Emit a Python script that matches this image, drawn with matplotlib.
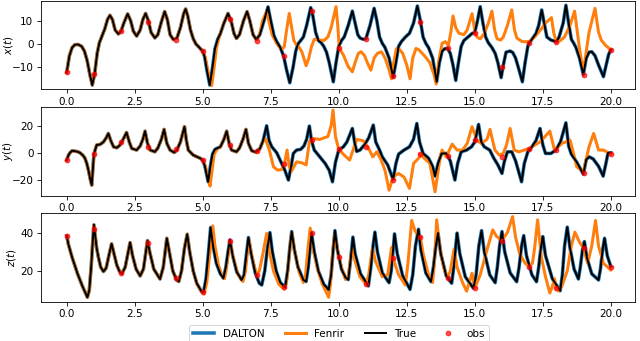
import numpy as np
import matplotlib.pyplot as plt

# 观测时刻和观测值 (t = 0..20)
obs_t = list(range(21))
obs_x = [-12.2, -12.9, 5.7, 9.6, 1.7, -3.0, 10.7, 1.4, -5.0, 14.2, -1.9,
         2.1, -13.7, 9.4, -1.9, 4.9, -9.7, 0.3, 1.0, -13.3, -2.6]
obs_y = [-5.4, -1.0, 7.9, 4.0, 2.5, -5.4, 5.7, 1.5, -8.6, 9.4, 2.7,
         4.0, -19.8, -1.0, -2.5, 9.4, -3.0, 2.5, 2.0, -14.8, -1.2]
obs_z = [38.3, 41.9, 18.8, 34.4, 16.5, 9.0, 35.7, 17.9, 11.8, 39.7, 27.5,
         13.2, 26.6, 37.9, 16.5, 11.0, 35.8, 22.3, 11.0, 31.8, 22.3]

# 真实轨迹 (从图中读取的点)
true_x = [(0, -12.1), (0.1, -5), (0.2, -1.5), (0.3, -0.3), (0.42, -0.2), (0.55, -1), (0.65, -3),
          (0.75, -7), (0.85, -13), (0.94, -17.6), (1.03, -12.5), (1.12, -4), (1.2, 0.5), (1.3, 3.5),
          (1.4, 6.5), (1.5, 10.5), (1.59, 12.3), (1.68, 10.5), (1.78, 6), (1.9, 4.3), (2.0, 5.6),
          (2.1, 9), (2.24, 12.9), (2.35, 10), (2.45, 5.5), (2.57, 3.4), (2.7, 6), (2.8, 10.5),
          (2.9, 13.1), (3.0, 10), (3.1, 5), (3.24, 2.6), (3.35, 4), (3.48, 9.5), (3.6, 13.9),
          (3.7, 10.5), (3.8, 4), (3.92, 1.9), (4.05, 2.5), (4.18, 7), (4.3, 13), (4.37, 15.0),
          (4.45, 12), (4.55, 6), (4.65, 2.3), (4.75, 0), (4.85, -1.2), (4.95, -2.5), (5.0, -3.0),
          (5.07, -5.5), (5.15, -11), (5.26, -17.6), (5.36, -10), (5.45, -2), (5.55, 2), (5.65, 4.5),
          (5.78, 9), (5.93, 13.1), (6.05, 9.5), (6.15, 4.5), (6.24, 2.4), (6.35, 4), (6.5, 10),
          (6.63, 13.9), (6.73, 10), (6.85, 4), (6.97, 1.9), (7.1, 4), (7.25, 10), (7.4, 15.9),
          (7.5, 10), (7.62, 3.5), (7.72, 1), (7.85, -1.5), (7.97, -5), (8.08, -11), (8.2, -16.6),
          (8.32, -10), (8.42, -3), (8.5, 0), (8.6, 1.5), (8.7, 3), (8.82, 8), (8.97, 15.6),
          (9.05, 12), (9.15, 5), (9.25, 1.5), (9.35, 0.6), (9.45, -1), (9.55, -3.5), (9.65, -8),
          (9.8, -16.2), (9.9, -8), (10.0, -1), (10.1, 1.5), (10.2, 3), (10.35, 8), (10.5, 14.1),
          (10.6, 9), (10.7, 4), (10.78, 2.6), (10.9, 2), (11.0, 2.3), (11.15, 8), (11.3, 15.3),
          (11.4, 10), (11.5, 3), (11.6, 0.3), (11.7, -1.5), (11.85, -6), (12.0, -14.2), (12.1, -8),
          (12.2, -1), (12.3, 1), (12.45, 3), (12.6, 4.6), (12.75, 9), (12.89, 16.3), (13.0, 10),
          (13.1, 3), (13.2, 0.3), (13.3, -1.5), (13.45, -6), (13.6, -16.2), (13.7, -8), (13.8, -3),
          (13.9, -2), (14.0, -1.9), (14.1, -4), (14.2, -9), (14.3, -15.6), (14.4, -8), (14.5, -1),
          (14.6, 1.5), (14.75, 3), (14.9, 4.5), (15.0, 5.0), (15.1, 10), (15.2, 16.0), (15.3, 9),
          (15.4, 3), (15.5, 0.5), (15.63, -1.5), (15.75, -4), (15.85, -8), (15.97, -14.4),
          (16.05, -9), (16.15, -3.5), (16.3, -3), (16.4, -3.7), (16.5, -6), (16.6, -10),
          (16.75, -16.2), (16.85, -8), (16.95, -1), (17.0, 0.5), (17.1, 2), (17.25, 4.5),
          (17.35, 8), (17.46, 14.6), (17.55, 9), (17.65, 3), (17.8, 1.7), (17.95, 1.2), (18.0, 1.0),
          (18.1, 3), (18.25, 9), (18.35, 16.6), (18.45, 9), (18.55, 2), (18.63, 0.5), (18.72, -1.5),
          (18.85, -6), (18.99, -13.1), (19.1, -6), (19.2, -3.5), (19.3, -3.3), (19.42, -5),
          (19.55, -9), (19.73, -14), (19.83, -9), (19.92, -4.5), (20.0, -2.5)]

true_y = [(0, -5.4), (0.06, -2), (0.12, 0), (0.2, 1.5), (0.3, 1.2), (0.4, 0.8), (0.49, 0), (0.6, -2),
          (0.67, -4), (0.74, -8), (0.8, -13), (0.86, -19), (0.92, -24), (0.96, -13), (1.0, -1),
          (1.1, 5.7), (1.23, 6.2), (1.35, 8), (1.45, 11), (1.53, 14.3), (1.62, 9), (1.72, 4.4),
          (1.84, 3.7), (1.95, 5.5), (2.05, 9), (2.2, 15), (2.3, 8), (2.39, 3.2), (2.57, 2), (2.7, 5),
          (2.8, 10), (2.88, 16), (2.97, 7), (3.07, 2), (3.24, 0.7), (3.35, 3.5), (3.48, 10),
          (3.58, 17.3), (3.68, 7), (3.8, 2), (3.95, 0.2), (4.05, 2), (4.18, 8), (4.33, 19.3),
          (4.4, 9), (4.47, 2), (4.65, -1.7), (4.9, -4), (5.0, -5.4), (5.08, -10), (5.2, -21.5),
          (5.28, -10), (5.36, -1), (5.45, 2.5), (5.55, 3.5), (5.65, 4.4), (5.78, 10), (5.88, 16),
          (5.97, 7), (6.06, 2), (6.24, 0.7), (6.35, 3.5), (6.48, 10), (6.59, 17.3), (6.68, 7),
          (6.8, 1.5), (6.95, 0.5), (7.1, 3), (7.22, 9), (7.35, 20), (7.44, 9), (7.54, 4.4), (7.72, 0),
          (7.9, -7.9), (8.02, -13), (8.15, -20.2), (8.25, -10), (8.33, -0.5), (8.45, 2), (8.6, 2.5),
          (8.72, 5), (8.82, 10), (8.92, 19.8), (9.0, 9), (9.1, 2), (9.3, -3), (9.5, -7.9),
          (9.65, -13), (9.77, -21.5), (9.88, -7), (10.0, 2), (10.17, 4.4), (10.3, 8), (10.5, 18),
          (10.6, 6), (10.66, 1), (10.78, 2), (10.95, 6), (11.1, 11), (11.27, 20.5), (11.36, 8),
          (11.5, 2), (11.6, -3), (11.8, -9), (12.0, -19.8), (12.1, -8), (12.2, -1), (12.4, 2),
          (12.6, 4.4), (12.75, 10), (12.87, 21.7), (12.97, 8), (13.1, -0.5), (13.3, -4),
          (13.45, -10), (13.54, -17.3), (13.65, -8), (13.78, -0.5), (13.95, -0.5), (14.1, -6),
          (14.27, -20.2), (14.37, -8), (14.5, 0.7), (14.7, 2), (14.88, 4.4), (15.0, 8), (15.14, 21),
          (15.24, 8), (15.35, 4.4), (15.55, 2), (15.7, -4), (15.85, -9), (16.0, -15.3), (16.08, -7),
          (16.2, 0.7), (16.36, 0.7), (16.5, -6), (16.72, -21.5), (16.82, -8), (16.95, 0.7),
          (17.1, 4.4), (17.25, 9), (17.4, 18), (17.5, 6), (17.6, -0.5), (17.8, -0.5), (17.98, 2),
          (18.15, 8), (18.35, 22.2), (18.45, 5), (18.55, -1), (18.75, -7), (18.99, -15.8),
          (19.1, -5), (19.2, -3), (19.35, -4.5), (19.55, -10), (19.72, -17.3), (19.82, -8),
          (19.9, 0), (20.0, 0)]

true_z = [(0, 38.3), (0.06, 34), (0.12, 31), (0.2, 27), (0.31, 22.3), (0.4, 18.5), (0.49, 15.3),
          (0.58, 12), (0.67, 9.2), (0.76, 6.3), (0.83, 10), (0.9, 22.3), (0.96, 36), (1.0, 44),
          (1.05, 38), (1.1, 32), (1.16, 27.5), (1.25, 22), (1.35, 19.7), (1.45, 21.5), (1.55, 28),
          (1.65, 34.1), (1.74, 29), (1.84, 23.1), (1.95, 19.5), (2.03, 18.6), (2.15, 22), (2.25, 29),
          (2.33, 34.8), (2.42, 28), (2.55, 21), (2.7, 17.4), (2.82, 21), (2.9, 29), (2.97, 35.8),
          (3.05, 30), (3.2, 21), (3.43, 15.8), (3.55, 22), (3.62, 30), (3.68, 37), (3.77, 30),
          (3.9, 20), (4.04, 15.3), (4.12, 14.5), (4.22, 20), (4.33, 32), (4.43, 39.1), (4.52, 30),
          (4.65, 20), (4.78, 13.6), (4.96, 9.2), (5.03, 9), (5.12, 16), (5.2, 28), (5.29, 42.6),
          (5.38, 33), (5.5, 24), (5.65, 18.5), (5.76, 16.2), (5.85, 22), (5.93, 30), (6.0, 36.2),
          (6.1, 28), (6.25, 19.5), (6.43, 15.3), (6.52, 18), (6.6, 28), (6.68, 37.4), (6.78, 29),
          (6.93, 19), (7.08, 13.6), (7.17, 12.7), (7.28, 20), (7.38, 32), (7.47, 40), (7.56, 30),
          (7.7, 20), (7.85, 14), (8.03, 11.5), (8.12, 20), (8.2, 32), (8.27, 40.5), (8.37, 31),
          (8.5, 22), (8.7, 15.3), (8.8, 14.5), (8.88, 22), (8.95, 32), (9.0, 39.7), (9.1, 30),
          (9.25, 20), (9.45, 13), (9.63, 10.2), (9.72, 18), (9.8, 32), (9.86, 41), (9.95, 31),
          (10.1, 21), (10.25, 16.5), (10.35, 15.5), (10.43, 25), (10.52, 37.6), (10.6, 29),
          (10.8, 18.5), (11.09, 12.2), (11.18, 22), (11.26, 33), (11.33, 40.2), (11.42, 30),
          (11.6, 19), (11.85, 13.9), (11.93, 20), (12.0, 31), (12.05, 39.3), (12.15, 29),
          (12.35, 17.5), (12.62, 10.4), (12.72, 18), (12.82, 33), (12.93, 41.7), (13.02, 31),
          (13.2, 19), (13.39, 14.4), (13.48, 22), (13.57, 33), (13.65, 39.7), (13.75, 29),
          (13.95, 17.5), (14.15, 13.6), (14.23, 22), (14.3, 33), (14.35, 39.7), (14.45, 29),
          (14.65, 17), (14.95, 11), (15.05, 18), (15.15, 33), (15.25, 41), (15.35, 30), (15.55, 18),
          (15.75, 13.9), (15.83, 22), (15.92, 34), (16.0, 40.5), (16.1, 30), (16.3, 19),
          (16.54, 14.4), (16.63, 22), (16.72, 33), (16.8, 38.4), (16.9, 28), (17.1, 18),
          (17.27, 14.4), (17.35, 22), (17.43, 32), (17.5, 37.9), (17.6, 28), (17.85, 16),
          (18.14, 9.7), (18.22, 18), (18.3, 33), (18.4, 42.8), (18.5, 32), (18.65, 21),
          (18.81, 15.8), (18.88, 22), (18.96, 31), (19.03, 35.3), (19.12, 27), (19.3, 18.5),
          (19.55, 15.3), (19.62, 21), (19.7, 31), (19.77, 37), (19.87, 28), (20.0, 22.3)]

# Fenrir 偏离后的部分
fenrir_x_a = [(5.0, -3.0), (5.1, -6), (5.2, -12), (5.33, -17.8), (5.42, -10), (5.5, -2), (5.58, 2)]
fenrir_x_b = [(7.0, 1.9), (7.1, 4.5), (7.2, 10), (7.35, 13.9), (7.45, 9), (7.55, 4), (7.72, 0.3),
              (7.85, -1.8), (7.92, -2.2), (8.0, -1), (8.07, 5), (8.18, 13.1), (8.27, 7), (8.35, 1.5),
              (8.45, -0.5), (8.55, -1.5), (8.65, -3.5), (8.8, -9.3), (8.9, -6), (9.0, -1), (9.1, 2.0),
              (9.25, 1.8), (9.45, 1.5), (9.6, 3), (9.72, 7), (9.9, 16.0), (9.97, 7), (10.02, -1.9),
              (10.17, -4.7), (10.35, -9.7), (10.5, -11.9), (10.6, -8), (10.72, -4), (10.82, -3.3),
              (10.95, -5), (11.05, -8), (11.18, -11.2), (11.3, -6), (11.42, -4), (11.57, -3.3),
              (11.7, -6), (11.85, -11), (11.94, -14.9), (12.02, -8), (12.12, -2), (12.25, -2.5),
              (12.35, -4), (12.5, -9), (12.62, -14.9), (12.72, -6), (12.84, -1.9), (12.95, -2.5),
              (13.17, -5.3), (13.35, -8), (13.5, -13), (13.58, -17.1), (13.68, -7), (13.8, 0.3),
              (13.92, 1.0), (14.03, -0.5), (14.12, 5), (14.2, 12.0), (14.3, 7), (14.42, 4.6),
              (14.6, 4), (14.72, 6), (14.9, 13), (15.0, 6), (15.08, 3), (15.2, 2.2), (15.35, 4.5),
              (15.5, 9), (15.63, 14.1), (15.73, 6), (15.82, 2.2), (15.95, 1.7), (16.05, 3), (16.2, 8),
              (16.36, 14.6), (16.46, 6), (16.55, 2.5), (16.75, 1), (17.0, 1.0), (17.2, 3),
              (17.45, 6.5), (17.6, 9), (17.82, 11.3), (17.9, 5), (18.0, 0.8), (18.15, 1.5), (18.3, 3),
              (18.5, 8), (18.67, 14.1), (18.77, 5), (18.85, -2), (18.99, -11.9), (19.1, -3),
              (19.2, 5), (19.42, 15.3), (19.55, 5), (19.65, 1.7), (19.8, -0.5), (20.0, -2.5)]

fenrir_y_a = [(5.0, -5.4), (5.1, -10), (5.2, -19), (5.27, -24.7), (5.35, -12), (5.42, -1),
              (5.52, 2.5), (5.6, 3.5)]
fenrir_y_b = [(7.0, 0.5), (7.1, 3), (7.2, 8), (7.3, 10.6), (7.45, 2), (7.6, -10.4), (7.75, -12.8),
              (7.9, -12.5), (8.0, -8.6), (8.1, 2), (8.18, -10), (8.25, -14), (8.45, -6.7),
              (8.65, -7.5), (8.8, -9), (8.92, 8), (9.05, 10.6), (9.3, 9.9), (9.6, 12), (9.72, 20),
              (9.79, 31.6), (9.88, 12), (10.0, 2.5), (10.2, -1.7), (10.4, -5.4), (10.66, 9.9),
              (10.9, 8.9), (11.1, 3.2), (11.25, -3), (11.4, 0.7), (11.55, -5), (11.7, -13),
              (11.85, -27.7), (12.0, -17.8), (12.2, -15.3), (12.4, -18), (12.6, -26.4), (12.75, -7.9),
              (12.96, -3.5), (13.0, -1), (13.15, -4.2), (13.35, -7.9), (13.54, -28.9), (13.72, -4.2),
              (13.8, 2), (13.95, -3), (14.17, 6.4), (14.35, 2), (14.55, 2), (14.72, 6.9),
              (14.9, 19.3), (15.08, 9.4), (15.24, 6.9), (15.45, 10), (15.56, 17.3), (15.74, 2),
              (15.9, -1.7), (16.05, -0.5), (16.17, 6), (16.3, 18), (16.45, 2), (16.62, 0.7),
              (17.0, 3.2), (17.4, 8), (17.76, 16), (17.93, 2), (18.2, 6.9), (18.5, 9.4), (18.6, 2),
              (18.75, -10.4), (18.99, -14), (19.2, 4.4), (19.37, 14.3), (19.55, 2), (19.73, 2),
              (20.0, -1)]

fenrir_z_b = [(4.96, 9.2), (5.05, 8), (5.15, 14), (5.25, 28), (5.37, 43.5), (5.45, 33), (5.58, 23),
              (5.72, 17), (5.8, 16), (5.88, 22), (5.95, 30), (6.01, 35.5), (6.1, 28), (6.3, 18),
              (6.48, 14.5), (6.57, 20), (6.63, 28), (6.7, 36.5), (6.8, 28), (6.95, 19.5), (7.0, 17.9),
              (7.08, 20), (7.2, 28), (7.35, 39.5), (7.45, 30), (7.6, 20), (7.8, 13), (8.0, 10.5),
              (8.08, 14), (8.18, 28), (8.27, 40), (8.37, 31), (8.55, 19), (8.7, 14), (8.78, 18),
              (8.87, 32), (8.95, 42.3), (9.05, 32), (9.2, 22), (9.4, 13), (9.63, 6.3), (9.7, 14),
              (9.78, 30), (9.85, 39), (9.93, 33), (10.0, 27.5), (10.1, 22), (10.25, 15.5),
              (10.35, 17), (10.45, 28), (10.5, 31.8), (10.6, 25), (10.78, 17), (11.0, 13.2),
              (11.1, 18), (11.24, 31.8), (11.35, 25), (11.6, 17), (11.8, 18), (11.94, 32.2),
              (12.0, 26.6), (12.2, 18), (12.45, 12.7), (12.55, 25), (12.68, 46.3), (12.8, 41),
              (12.9, 39), (13.0, 37.9), (13.1, 29), (13.3, 18), (13.45, 14), (13.52, 25),
              (13.6, 46.6), (13.7, 34), (13.85, 22), (14.0, 16.5), (14.1, 20), (14.24, 31.3),
              (14.35, 22), (14.55, 14), (14.7, 9.5), (14.9, 18.8), (15.0, 11), (15.2, 18),
              (15.45, 31), (15.66, 41.4), (15.8, 38), (16.0, 35.8), (16.2, 40), (16.39, 48.3),
              (16.5, 37.5), (16.65, 29), (16.85, 24), (17.0, 22.3), (17.12, 24), (17.2, 32),
              (17.31, 46.6), (17.45, 27), (17.6, 17), (17.76, 8.5), (17.85, 12), (17.93, 16),
              (18.0, 11), (18.08, 9.5), (18.2, 12), (18.4, 20), (18.55, 33), (18.68, 40.2),
              (18.85, 35), (19.0, 31.8), (19.15, 24), (19.3, 33), (19.44, 46.3), (19.55, 33),
              (19.73, 24), (20.0, 20.5)]


def seg(pts, lo, hi):
    return [p for p in pts if lo <= p[0] < hi]


fenrir_x = seg(true_x, 0, 5.0) + fenrir_x_a + seg(true_x, 5.6, 7.0) + fenrir_x_b
fenrir_y = seg(true_y, 0, 5.0) + fenrir_y_a + seg(true_y, 5.62, 7.0) + fenrir_y_b
fenrir_z = seg(true_z, 0, 4.96) + fenrir_z_b

panels = [
    ('$x(t)$', true_x, fenrir_x, obs_x, (-19.4, 18.3), [-10, 0, 10]),
    ('$y(t)$', true_y, fenrir_y, obs_y, (-32, 34.1), [-20, 0, 20]),
    ('$z(t)$', true_z, fenrir_z, obs_z, (4.0, 50.0), [20, 40]),
]

# 原图是缩小后的图, 用 75 dpi 保持默认字号的比例
fig = plt.figure(figsize=(640 / 75, 341 / 75), dpi=75)
W, H = 640, 341
rows = [(1.3, 89.3), (106.7, 196.0), (213.3, 301.7)]
label_x = [-0.043, -0.043, -0.038]

for i, (lab, tr, fe, ob, ylim, yt) in enumerate(panels):
    top, bot = rows[i]
    ax = fig.add_axes([40.7 / W, 1 - bot / H, (635 - 40.7) / W, (bot - top) / H])
    tr = np.array(tr)
    fe = np.array(fe)
    ax.plot(tr[:, 0], tr[:, 1], color='#1f77b4', lw=3.4, label='DALTON')
    ax.plot(fe[:, 0], fe[:, 1], color='#ff7f0e', lw=2.9, label='Fenrir')
    ax.plot(tr[:, 0], tr[:, 1], color='black', lw=1.9, label='True')
    ax.plot(obs_t, ob, 'o', color='red', ms=4.5, alpha=0.7, label='obs')
    ax.set_xlim(-0.956, 20.89)
    ax.set_ylim(*ylim)
    ax.set_yticks(yt)
    ax.set_xticks([0, 2.5, 5, 7.5, 10, 12.5, 15, 17.5, 20])
    ax.set_ylabel(lab)
    ax.yaxis.set_label_coords(label_x[i], 0.5)
    if i == 0:
        handles, labels = ax.get_legend_handles_labels()

fig.legend(handles, labels, loc='upper center', bbox_to_anchor=(0.53, 0.047),
           borderaxespad=0, ncol=4, frameon=True)

fig.savefig('out.png', dpi=75)
